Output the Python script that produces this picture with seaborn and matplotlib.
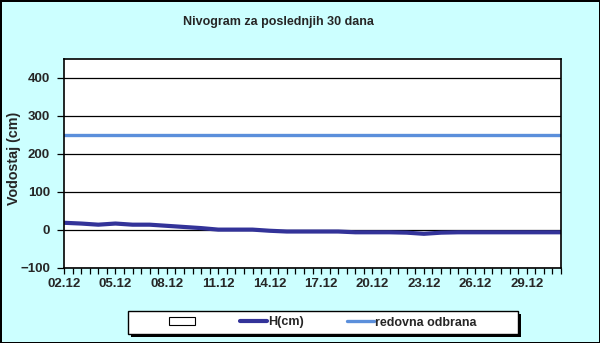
import matplotlib
matplotlib.use("Agg")
import matplotlib.pyplot as plt
import matplotlib.patches as mpatches
from matplotlib.lines import Line2D
from matplotlib.ticker import MultipleLocator, FixedLocator
import seaborn as sns
import pandas as pd

# Daily water level, 02.12 - 31.12
days = [
    "02.12", "03.12", "04.12", "05.12", "06.12", "07.12", "08.12", "09.12",
    "10.12", "11.12", "12.12", "13.12", "14.12", "15.12", "16.12", "17.12",
    "18.12", "19.12", "20.12", "21.12", "22.12", "23.12", "24.12", "25.12",
    "26.12", "27.12", "28.12", "29.12", "30.12", "31.12",
]
hCm = [
    19, 17, 14, 17, 14, 14, 11, 8,
    5, 1, 1, 1, -2, -4, -4, -4,
    -4, -6, -6, -6, -7, -10, -7, -6,
    -6, -6, -6, -6, -6, -6,
]
redovnaOdbrana = [250] * len(days)

hColor = "#333399"
odbranaColor = "#5B8FDB"
bgColor = "#CCFFFF"

df = pd.DataFrame({"day": range(len(days)), "H": hCm, "odbrana": redovnaOdbrana})

sns.set_style("white")
plt.rcParams["font.family"] = ["Liberation Sans", "DejaVu Sans"]

W, H = 600, 343
fig = plt.figure(figsize=(W / 100, H / 100), dpi=100)
fig.patch.set_facecolor(bgColor)
fig.patch.set_edgecolor("black")
fig.patch.set_linewidth(2)
ax = fig.add_axes([64 / W, 1 - 268 / H, (561 - 64) / W, (268 - 59) / H])
ax.set_facecolor("white")

sns.lineplot(data=df, x="day", y="odbrana", color=odbranaColor, linewidth=2.4, ax=ax)
sns.lineplot(data=df, x="day", y="H", color=hColor, linewidth=3.0, ax=ax)

ax.set_xlim(0, len(days) - 1)
ax.set_ylim(-100, 450)
ax.yaxis.set_major_locator(FixedLocator([-100, 0, 100, 200, 300, 400]))
ax.grid(axis="y", color="black", linewidth=0.9)
ax.set_axisbelow(True)

labelPos = list(range(0, len(days), 3))
ax.set_xticks(labelPos)
ax.set_xticklabels([days[i] for i in labelPos], fontsize=9.5, fontweight="bold")
ax.xaxis.set_minor_locator(MultipleLocator(0.5))
ax.tick_params(axis="x", which="both", direction="out", length=4, width=0.9,
               color="black", bottom=True, pad=3)
ax.tick_params(axis="y", direction="out", length=5, width=0.9, color="black",
               left=True, pad=5)
for lab in ax.get_yticklabels():
    lab.set_fontweight("bold")
    lab.set_fontsize(9.5)

for s in ax.spines.values():
    s.set_color("black")
    s.set_linewidth(1.2)

ax.set_xlabel("")
ax.set_ylabel("Vodostaj (cm)", fontsize=10.3, fontweight="bold")
ax.yaxis.set_label_coords(21 / W, 1 - 158 / H, transform=fig.transFigure)
fig.text(278 / W, 1 - 22 / H, "Nivogram za poslednjih 30 dana", ha="center",
         va="center", fontsize=9, fontweight="bold")

# legend frame with solid shadow, drawn in figure pixels
x0, y0, x1, y1 = 128, 311, 518, 334
fig.add_artist(mpatches.Rectangle((x0 + 3, H - y1 - 3), x1 - x0, y1 - y0,
                                  transform=None, facecolor="black", edgecolor="none"))
fig.add_artist(mpatches.Rectangle((x0, H - y1), x1 - x0, y1 - y0, transform=None,
                                  facecolor="white", edgecolor="black", linewidth=1.0))

handles = [
    mpatches.Rectangle((0, 0), 1, 1, facecolor="white", edgecolor="black", linewidth=0.8),
    Line2D([], [], color=hColor, linewidth=3.0),
    Line2D([], [], color=odbranaColor, linewidth=2.4),
]
leg = fig.legend(handles, ["", "H(cm)", "redovna odbrana"], loc="center",
                 bbox_to_anchor=(323 / W, 1 - 322.5 / H), ncol=3, frameon=False,
                 handlelength=2.1, handleheight=0.6, handletextpad=0.15,
                 columnspacing=3.45, borderpad=0.2,
                 prop={"weight": "bold", "size": 9})
leg.set_zorder(5)

fig.savefig("out.png", dpi=100, facecolor=fig.get_facecolor(), edgecolor="black")
